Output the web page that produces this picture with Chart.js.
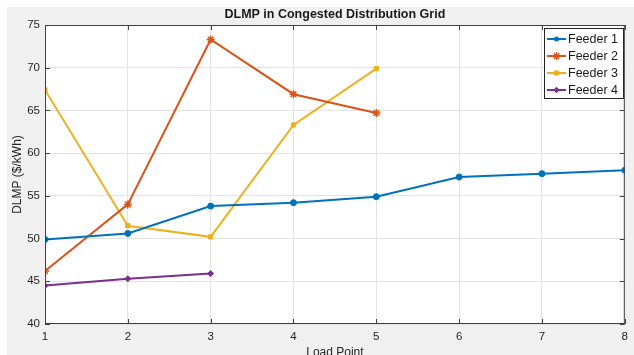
<!DOCTYPE html>
<html>
<head>
<meta charset="utf-8">
<script src="https://cdn.jsdelivr.net/npm/chart.js@4/dist/chart.umd.min.js"></script>
<style>
  html, body { margin: 0; padding: 0; background: #fff; }
  canvas { display: block; }
</style>
</head>
<body>
<canvas id="dlmpChart" width="634" height="355"></canvas>
<script>
// values
const loadPoints = [1, 2, 3, 4, 5, 6, 7, 8];
const feeder1 = [49.9, 50.6, 53.8, 54.2, 54.9, 57.2, 57.6, 58.0];
const feeder2 = [46.2, 54.0, 73.3, 66.9, 64.7];
const feeder3 = [67.4, 51.5, 50.2, 63.3, 69.9];
const feeder4 = [44.5, 45.3, 45.9];
const seriesNames = ['Feeder 1', 'Feeder 2', 'Feeder 3', 'Feeder 4'];
const yTicks = [40, 45, 50, 55, 60, 65, 70, 75];

const colors = ['#0072BD', '#D95319', '#EDB120', '#7E2F8E'];
const markers = ['circle', 'star', 'rect', 'rectRot'];
const FONT = "'Liberation Sans', Arial, sans-serif";

function toPoints(vals) {
  return vals.map((v, i) => ({ x: loadPoints[i], y: v }));
}

const allSeries = [feeder1, feeder2, feeder3, feeder4];
const datasets = allSeries.map((vals, i) => ({
  label: seriesNames[i],
  data: toPoints(vals),
  borderColor: colors[i],
  backgroundColor: colors[i],
  borderWidth: 2,
  pointStyle: markers[i],
  pointRadius: markers[i] === 'star' ? 4 : 3,
  pointBorderWidth: markers[i] === 'star' ? 1.5 : 1,
  tension: 0
}));

function drawMarker(ctx, style, x, y, r, color) {
  ctx.save();
  ctx.fillStyle = color;
  ctx.strokeStyle = color;
  ctx.lineWidth = 1.5;
  ctx.beginPath();
  if (style === 'circle') {
    ctx.arc(x, y, r, 0, Math.PI * 2);
    ctx.fill();
  } else if (style === 'rect') {
    ctx.fillRect(x - r, y - r, r * 2, r * 2);
  } else if (style === 'rectRot') {
    ctx.moveTo(x, y - r * 1.3); ctx.lineTo(x + r * 1.3, y);
    ctx.lineTo(x, y + r * 1.3); ctx.lineTo(x - r * 1.3, y);
    ctx.closePath(); ctx.fill();
  } else {
    for (let k = 0; k < 4; k++) {
      const a = k * Math.PI / 4;
      ctx.moveTo(x - Math.cos(a) * r, y - Math.sin(a) * r);
      ctx.lineTo(x + Math.cos(a) * r, y + Math.sin(a) * r);
    }
    ctx.stroke();
  }
  ctx.restore();
}

// gray figure background, white axes area
const figureBg = {
  id: 'figureBg',
  beforeDraw(chart) {
    const { ctx, chartArea: a } = chart;
    ctx.save();
    ctx.fillStyle = '#ffffff';
    ctx.fillRect(0, 0, chart.width, chart.height);
    ctx.fillStyle = '#f0f0f0';
    ctx.fillRect(7, 7, chart.width - 7, chart.height - 7);
    ctx.fillStyle = '#ffffff';
    ctx.fillRect(a.left, a.top, a.right - a.left, a.bottom - a.top);
    ctx.restore();
  }
};

// box, inward tick marks, titles and legend like the matlab figure
const matlabDecor = {
  id: 'matlabDecor',
  afterDraw(chart) {
    const { ctx, chartArea: a, scales } = chart;
    ctx.save();
    ctx.strokeStyle = '#404040';
    ctx.lineWidth = 1;
    ctx.strokeRect(a.left + 0.5, a.top + 0.5, a.right - a.left - 1, a.bottom - a.top - 1);
    ctx.beginPath();
    loadPoints.forEach(v => {
      const px = Math.round(scales.x.getPixelForValue(v)) + 0.5;
      ctx.moveTo(px, a.bottom); ctx.lineTo(px, a.bottom - 5);
      ctx.moveTo(px, a.top); ctx.lineTo(px, a.top + 5);
    });
    yTicks.forEach(v => {
      const py = Math.round(scales.y.getPixelForValue(v)) + 0.5;
      ctx.moveTo(a.left, py); ctx.lineTo(a.left + 5, py);
      ctx.moveTo(a.right, py); ctx.lineTo(a.right - 5, py);
    });
    ctx.stroke();

    // titles
    ctx.fillStyle = '#1a1a1a';
    ctx.textAlign = 'center';
    ctx.textBaseline = 'middle';
    ctx.font = 'bold 12.5px ' + FONT;
    ctx.fillText('DLMP in Congested Distribution Grid', (a.left + a.right) / 2, 15);
    ctx.font = '12px ' + FONT;
    ctx.fillStyle = '#262626';
    ctx.fillText('Load Point', (a.left + a.right) / 2, 353);
    ctx.save();
    ctx.translate(18, (a.top + a.bottom) / 2);
    ctx.rotate(-Math.PI / 2);
    ctx.fillText('DLMP ($/kWh)', 0, 0);
    ctx.restore();

    // legend
    const lx = 544, ly = 28, lw = 79, lh = 70;
    ctx.fillStyle = '#ffffff';
    ctx.fillRect(lx, ly, lw, lh);
    ctx.strokeStyle = '#262626';
    ctx.strokeRect(lx + 0.5, ly + 0.5, lw, lh);
    ctx.font = '12.5px ' + FONT;
    ctx.textAlign = 'left';
    seriesNames.forEach((name, i) => {
      const y = 39 + i * 17;
      ctx.strokeStyle = colors[i];
      ctx.lineWidth = 2;
      ctx.beginPath();
      ctx.moveTo(547, y); ctx.lineTo(566, y);
      ctx.stroke();
      drawMarker(ctx, markers[i], 556.5, y, markers[i] === 'star' ? 4 : 2.5, colors[i]);
      ctx.fillStyle = '#1a1a1a';
      ctx.fillText(name, 568, y + 0.5);
    });
    ctx.restore();
  }
};

new Chart(document.getElementById('dlmpChart').getContext('2d'), {
  type: 'line',
  data: { datasets: datasets },
  options: {
    responsive: false,
    animation: false,
    layout: { padding: { left: 0, top: 25, right: 7, bottom: 0 } },
    plugins: {
      legend: { display: false },
      title: { display: false },
      tooltip: { enabled: false }
    },
    scales: {
      x: {
        type: 'linear',
        min: 1,
        max: 8,
        afterFit(scale) { scale.height = 31; },
        afterBuildTicks(scale) { scale.ticks = loadPoints.map(v => ({ value: v })); },
        grid: { color: '#e3e3e3', drawTicks: false },
        border: { display: false },
        ticks: { color: '#262626', font: { family: FONT, size: 11.5 }, padding: 6 }
      },
      y: {
        min: 40,
        max: 75,
        afterFit(scale) { scale.width = 45; },
        afterBuildTicks(scale) { scale.ticks = yTicks.map(v => ({ value: v })); },
        grid: { color: '#e3e3e3', drawTicks: false },
        border: { display: false },
        ticks: { color: '#262626', font: { family: FONT, size: 11.5 }, padding: 5 }
      }
    }
  },
  plugins: [figureBg, matlabDecor]
});
</script>
</body>
</html>
